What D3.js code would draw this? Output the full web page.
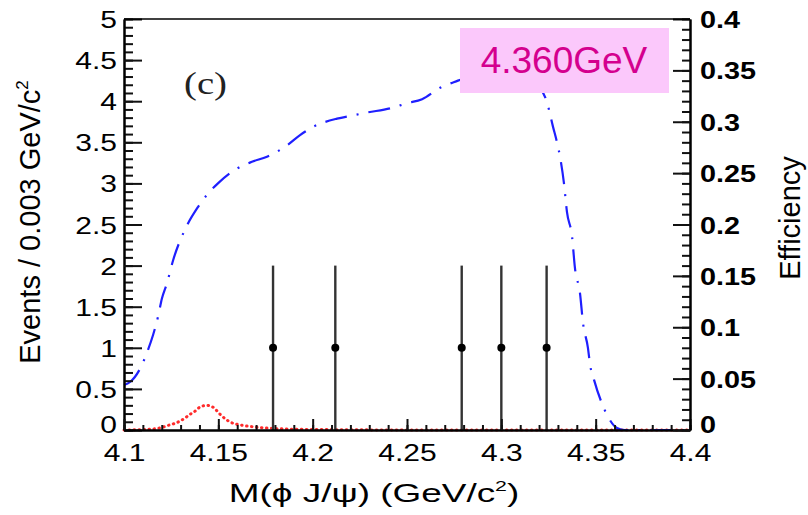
<!DOCTYPE html>
<html>
<head>
<meta charset="utf-8">
<script src="https://cdn.jsdelivr.net/npm/d3@7"></script>
<style>
  body { margin: 0; background: #fff; }
  svg { display: block; }
</style>
</head>
<body>
<div id="chart"></div>
<script>
// axis ticks and labels
var xTicks = [4.1, 4.15, 4.2, 4.25, 4.3, 4.35, 4.4];
var xTickLabels = ["4.1", "4.15", "4.2", "4.25", "4.3", "4.35", "4.4"];
var yTicks = [0, 0.5, 1, 1.5, 2, 2.5, 3, 3.5, 4, 4.5, 5];
var yTickLabels = ["0", "0.5", "1", "1.5", "2", "2.5", "3", "3.5", "4", "4.5", "5"];
var effTicks = [0, 0.05, 0.1, 0.15, 0.2, 0.25, 0.3, 0.35, 0.4];
var effTickLabels = ["0", "0.05", "0.1", "0.15", "0.2", "0.25", "0.3", "0.35", "0.4"];

// data points (events per bin)
var pointMass = [4.179, 4.212, 4.279, 4.300, 4.324];
var pointEvents = [1, 1, 1, 1, 1];
var pointErrLow = [1, 1, 1, 1, 1];
var pointErrHigh = [1, 1, 1, 1, 1];

// efficiency curve (blue dash-dot, right axis)
var effMass = [4.100, 4.1032, 4.1095, 4.1127, 4.1154, 4.1180, 4.1201, 4.1228, 4.1260, 4.1323,
               4.1392, 4.1440, 4.1498, 4.1604, 4.1678, 4.1758, 4.1864, 4.1933, 4.2002, 4.2129,
               4.2208, 4.2288, 4.2410, 4.2500, 4.2580, 4.2675, 4.2770, 4.2880, 4.3020, 4.3130,
               4.3195, 4.3242, 4.3274, 4.3295, 4.3311, 4.3332, 4.3348, 4.3375, 4.3390, 4.3417,
               4.3433, 4.3459, 4.3470, 4.3491, 4.3533, 4.3565, 4.3613, 4.3655, 4.400];
var effValue = [0.0438, 0.0467, 0.0633, 0.0779, 0.0925, 0.110, 0.128, 0.143, 0.165, 0.195,
                0.217, 0.229, 0.240, 0.255, 0.261, 0.266, 0.277, 0.287, 0.295, 0.303,
                0.306, 0.309, 0.313, 0.318, 0.322, 0.333, 0.340, 0.347, 0.350, 0.347,
                0.336, 0.319, 0.295, 0.280, 0.266, 0.240, 0.212, 0.188, 0.158, 0.133,
                0.104, 0.080, 0.064, 0.049, 0.026, 0.013, 0.002, 0, 0];

// signal shape (red dotted, left axis)
var sigMass = [4.100, 4.110, 4.118, 4.124, 4.128, 4.132, 4.135, 4.138, 4.140, 4.144,
               4.147, 4.151, 4.154, 4.156, 4.162, 4.168, 4.178, 4.190, 4.210, 4.250, 4.400];
var sigEvents = [0, 0.005, 0.02, 0.06, 0.09, 0.14, 0.19, 0.235, 0.275, 0.30,
                 0.28, 0.19, 0.13, 0.10, 0.06, 0.04, 0.02, 0.01, 0.005, 0, 0];

var energyLabel = "4.360GeV";

var W = 808, H = 515;
var margin = {top: 19, right: 118, bottom: 85, left: 124},
    width = W - margin.left - margin.right,
    height = H - margin.top - margin.bottom;

var root = d3.select("#chart").append("svg")
    .attr("width", W)
    .attr("height", H);

var svg = root.append("g")
    .attr("transform", "translate(" + margin.left + "," + margin.top + ")");

var x = d3.scaleLinear().domain([4.1, 4.4]).range([0, width]);
var y = d3.scaleLinear().domain([0, 5]).range([height, 0]);
var e = d3.scaleLinear().domain([0, 0.4]).range([height, 0]);

var FONT = "'Liberation Sans', Arial, Helvetica, sans-serif";

// signal shape
svg.append("path")
    .datum(sigMass.map((m, i) => [m, sigEvents[i]]))
    .attr("fill", "none")
    .attr("stroke", "#ff2b2b")
    .attr("stroke-width", 3)
    .attr("stroke-linecap", "round")
    .attr("stroke-dasharray", "0.5,4.5")
    .attr("d", d3.line().x(d => x(d[0])).y(d => y(d[1])).curve(d3.curveMonotoneX));

// efficiency
svg.append("path")
    .datum(effMass.map((m, i) => [m, effValue[i]]))
    .attr("fill", "none")
    .attr("stroke", "#1f1fff")
    .attr("stroke-width", 2.2)
    .attr("stroke-dasharray", "22,10,2,10")
    .attr("d", d3.line().x(d => x(d[0])).y(d => e(d[1])).curve(d3.curveMonotoneX));

// data points with error bars
var pts = pointMass.map((m, i) => ({m: m, v: pointEvents[i], lo: pointErrLow[i], hi: pointErrHigh[i]}));
svg.selectAll("line.err").data(pts).enter().append("line")
    .attr("class", "err")
    .attr("x1", d => x(d.m)).attr("x2", d => x(d.m))
    .attr("y1", d => y(d.v - d.lo)).attr("y2", d => y(d.v + d.hi))
    .attr("stroke", "#333")
    .attr("stroke-width", 2.4);
svg.selectAll("circle.pt").data(pts).enter().append("circle")
    .attr("class", "pt")
    .attr("cx", d => x(d.m)).attr("cy", d => y(d.v))
    .attr("r", 4)
    .attr("fill", "#000");

// axes
function styleAxis(g) {
  g.select(".domain").attr("stroke", "#000").attr("stroke-width", 2);
  g.selectAll(".tick line").attr("stroke", "#111").attr("stroke-width", 2);
}
// the zero label sits a little higher so it clears the x labels
function styleLabels(g, dx, dy, anchor, sx, weight, zeroLift) {
  g.selectAll(".tick text")
      .attr("x", null).attr("y", null).attr("dy", null)
      .attr("fill", "#000")
      .attr("text-anchor", anchor)
      .style("font-family", FONT)
      .style("font-size", "24px")
      .style("font-weight", weight)
      .attr("transform", d => "translate(" + dx + "," + (dy - (d === 0 ? zeroLift : 0)) + ") scale(" + sx + ",1)");
}

// left axis
svg.append("g")
    .call(d3.axisLeft(y).tickValues(y.ticks(50)).tickSize(-9).tickSizeOuter(0).tickFormat(""))
    .call(styleAxis);
svg.append("g")
    .call(d3.axisLeft(y).tickValues(yTicks).tickSize(-18).tickSizeOuter(0)
        .tickFormat((d, i) => yTickLabels[i]))
    .call(styleAxis)
    .call(g => styleLabels(g, -7, 8.5, "end", 1.25, "normal", 6));

// bottom axis
svg.append("g")
    .attr("transform", "translate(0," + height + ")")
    .call(d3.axisBottom(x).tickValues(x.ticks(30)).tickSize(-5).tickSizeOuter(0).tickFormat(""))
    .call(styleAxis);
svg.append("g")
    .attr("transform", "translate(0," + height + ")")
    .call(d3.axisBottom(x).tickValues(xTicks).tickSize(-11).tickSizeOuter(0)
        .tickFormat((d, i) => xTickLabels[i]))
    .call(styleAxis)
    .call(g => styleLabels(g, 0, 31, "middle", 1.25, "normal", 0));

// right axis
svg.append("g")
    .attr("transform", "translate(" + width + ",0)")
    .call(d3.axisRight(e).tickValues(e.ticks(40)).tickSize(-8).tickSizeOuter(0).tickFormat(""))
    .call(styleAxis);
svg.append("g")
    .attr("transform", "translate(" + width + ",0)")
    .call(d3.axisRight(e).tickValues(effTicks).tickSize(-17).tickSizeOuter(0)
        .tickFormat((d, i) => effTickLabels[i]))
    .call(styleAxis)
    .call(g => styleLabels(g, 10, 8.5, "start", 1.2, "bold", 6));

// top frame line
svg.append("line")
    .attr("x1", 0).attr("x2", width).attr("y1", 0).attr("y2", 0)
    .attr("stroke", "#000").attr("stroke-width", 1.6);

// axis titles
var xt = root.append("text")
    .attr("text-anchor", "middle")
    .attr("transform", "translate(374,502) scale(1.42,1)")
    .style("font-family", FONT).style("font-size", "26px").attr("fill", "#000");
xt.append("tspan").text("M(\u03d5 J/\u03c8) (GeV/c");
xt.append("tspan").attr("dy", -11).style("font-size", "15px").text("2");
xt.append("tspan").attr("dy", 11).text(")");

var yt = root.append("text")
    .attr("text-anchor", "middle")
    .attr("transform", "translate(40,222) rotate(-90)")
    .style("font-family", FONT).style("font-size", "29px").attr("fill", "#000");
yt.append("tspan").text("Events / 0.003 GeV/c");
yt.append("tspan").attr("dy", -12).style("font-size", "17px").text("2");

root.append("text")
    .attr("text-anchor", "middle")
    .attr("transform", "translate(800,218) rotate(-90)")
    .style("font-family", FONT).style("font-size", "29px").attr("fill", "#000")
    .text("Efficiency");

// panel label
root.append("text")
    .attr("transform", "translate(184,94) scale(1.25,1)")
    .style("font-family", "'Liberation Serif', 'Times New Roman', serif")
    .style("font-size", "31px").attr("fill", "#222")
    .text("(c)");

// energy box
root.append("rect")
    .attr("x", 460).attr("y", 28).attr("width", 209).attr("height", 65)
    .attr("fill", "#fbc8fb");
root.append("text")
    .attr("x", 564).attr("y", 73)
    .attr("text-anchor", "middle")
    .style("font-family", FONT).style("font-size", "37px")
    .attr("fill", "#d4008e")
    .text(energyLabel);
</script>
</body>
</html>
